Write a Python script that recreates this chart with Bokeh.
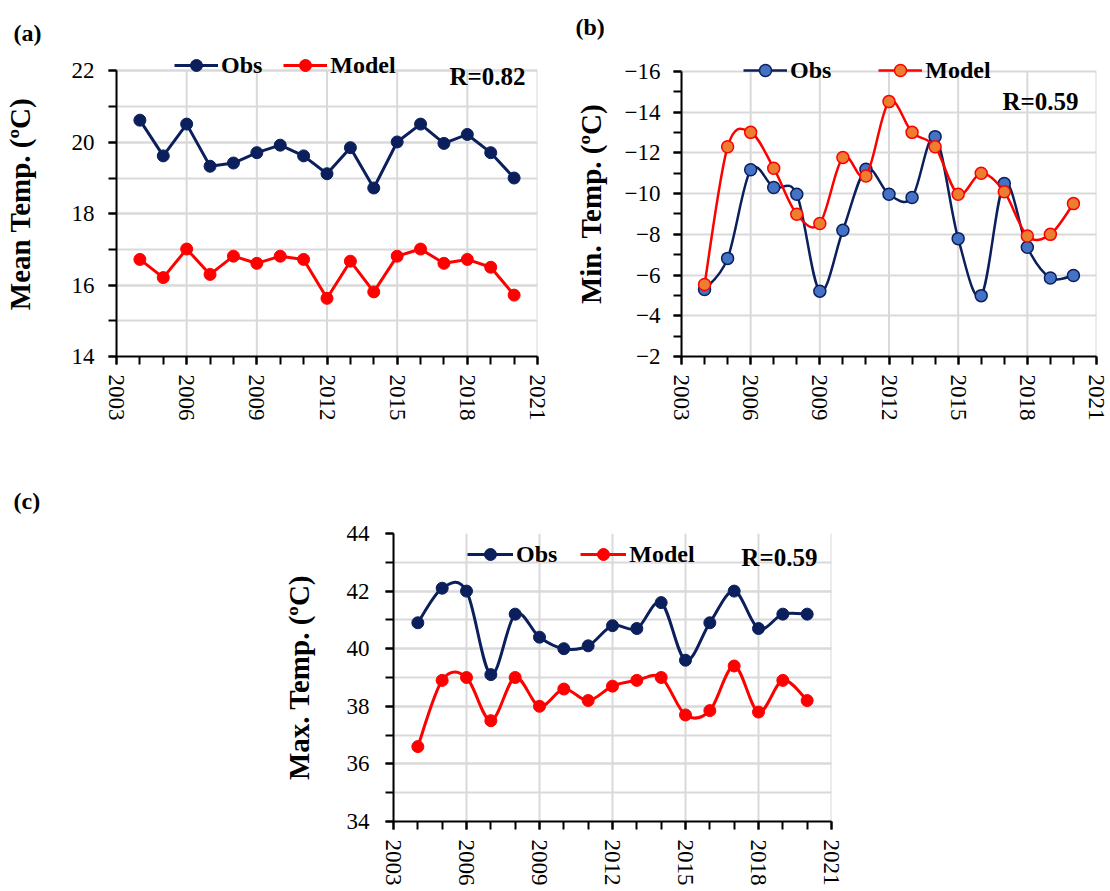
from bokeh.plotting import figure
from bokeh.models import (Range1d, FixedTicker, Legend, LegendItem, Label, Title,
                          CustomJSTickFormatter, ColumnDataSource)
from bokeh.layouts import column, row
from bokeh.embed import file_html
from bokeh.resources import INLINE

# ---------------- data ----------------
years = [2004, 2005, 2006, 2007, 2008, 2009, 2010, 2011, 2012,
         2013, 2014, 2015, 2016, 2017, 2018, 2019, 2020]

mean_obs = [20.62, 19.62, 20.51, 19.33, 19.42, 19.71, 19.92, 19.62, 19.12,
            19.85, 18.72, 20.01, 20.51, 19.97, 20.22, 19.71, 19.0]
mean_model = [16.72, 16.21, 17.01, 16.30, 16.81, 16.61, 16.81, 16.72, 15.63,
              16.67, 15.81, 16.81, 17.01, 16.61, 16.72, 16.50, 15.72]

min_obs = [-5.29, -6.82, -11.17, -10.30, -9.97, -5.21, -8.20, -11.20, -9.97,
           -9.81, -12.80, -7.79, -4.99, -10.50, -7.37, -5.86, -5.98]
min_model = [-5.54, -12.30, -13.01, -11.25, -8.99, -8.53, -11.78, -10.87, -14.52,
             -13.01, -12.30, -9.97, -11.0, -10.09, -7.92, -8.0, -9.51]

max_obs = [40.9, 42.1, 42.0, 39.1, 41.2, 40.4, 40.0, 40.1, 40.8,
           40.7, 41.6, 39.6, 40.9, 42.0, 40.7, 41.2, 41.2]
max_model = [36.6, 38.9, 39.0, 37.5, 39.0, 38.0, 38.6, 38.2, 38.7,
             38.9, 39.0, 37.7, 37.85, 39.4, 37.8, 38.9, 38.2]

x_ticks = [2003, 2006, 2009, 2012, 2015, 2018, 2021]
x_minor = list(range(2003, 2022))
a_ticks = [14, 16, 18, 20, 22]
a_minor = list(range(14, 23))
b_ticks = [-16, -14, -12, -10, -8, -6, -4, -2]
b_minor = list(range(-16, -1))
c_ticks = [34, 36, 38, 40, 42, 44]
c_minor = list(range(34, 45))

series_names = ["Obs", "Model"]
r_texts = ["R=0.82", "R=0.59", "R=0.59"]
y_titles = ["Mean Temp. (ºC)", "Min. Temp. (ºC)", "Max. Temp. (ºC)"]
panel_tags = ["(a)", "(b)", "(c)"]

NAVY = "#0B1F5C"
RED = "#FF0000"
BLUE_FILL = "#4472C4"
ORANGE_FILL = "#ED7D31"
GRID = "#D9D9D9"
FONT = "Liberation Serif"


def bezier_source(xs, ys):
    """Control points of a smoothed (Excel-like) curve through the data points."""
    n = len(xs)
    d = dict(x0=[], y0=[], x1=[], y1=[], cx0=[], cy0=[], cx1=[], cy1=[])
    for i in range(n - 1):
        i0 = i - 1 if i > 0 else i
        i3 = i + 2 if i + 2 < n else i + 1
        d["x0"].append(xs[i]); d["y0"].append(ys[i])
        d["x1"].append(xs[i + 1]); d["y1"].append(ys[i + 1])
        d["cx0"].append(xs[i] + (xs[i + 1] - xs[i0]) / 6.0)
        d["cy0"].append(ys[i] + (ys[i + 1] - ys[i0]) / 6.0)
        d["cx1"].append(xs[i + 1] - (xs[i3] - xs[i]) / 6.0)
        d["cy1"].append(ys[i + 1] - (ys[i3] - ys[i]) / 6.0)
    return ColumnDataSource(d)


def make_panel(width, height, borders, yrange, yt, ym, minor_grid, tag, tag_offset,
               tag_standoff, ylabel, ylabel_standoff, ytick_standoff, xstandoff):
    l, r, t, b = borders
    p = figure(width=width, height=height, x_range=Range1d(2003, 2021),
               y_range=Range1d(*yrange), output_backend="svg", toolbar_location=None,
               min_border_left=l, min_border_right=r, min_border_top=t,
               min_border_bottom=b)
    p.outline_line_color = None
    p.background_fill_color = "white"
    p.border_fill_color = "white"

    p.xaxis.ticker = FixedTicker(ticks=x_ticks, minor_ticks=x_minor)
    p.yaxis.ticker = FixedTicker(ticks=yt, minor_ticks=ym)
    p.yaxis.bounds = (min(yt), max(yt))

    for ax in (p.xaxis, p.yaxis):
        ax.axis_line_color = "black"
        ax.axis_line_width = 2
        ax.major_tick_line_color = "black"
        ax.major_tick_line_width = 2
        ax.minor_tick_line_color = "black"
        ax.minor_tick_line_width = 2
        ax.major_tick_in = 0
        ax.major_tick_out = 8
        ax.minor_tick_in = 0
        ax.minor_tick_out = 8
        ax.major_label_text_font = FONT
        ax.major_label_text_font_size = "23px"
        ax.major_label_text_color = "black"

    p.xaxis.major_label_orientation = "vertical"
    p.xaxis.major_label_standoff = xstandoff
    p.yaxis.major_label_standoff = ytick_standoff

    p.yaxis.axis_label = ylabel
    p.yaxis.axis_label_text_font = FONT
    p.yaxis.axis_label_text_font_size = "29px"
    p.yaxis.axis_label_text_font_style = "bold"
    p.yaxis.axis_label_text_color = "black"
    p.yaxis.axis_label_standoff = ylabel_standoff

    # vertical gridlines only between the axis limits
    p.xgrid.grid_line_color = None
    n = len(x_ticks)
    p.segment(x0=x_ticks, y0=[min(yt)] * n, x1=x_ticks, y1=[max(yt)] * n,
              line_color=GRID, line_width=2, level="underlay")
    p.ygrid.grid_line_color = GRID
    p.ygrid.grid_line_width = 2
    if minor_grid:
        p.ygrid.minor_grid_line_color = GRID
        p.ygrid.minor_grid_line_width = 2

    title = Title(text=tag, align="left", vertical_align="top", offset=tag_offset,
                  standoff=tag_standoff, text_font=FONT, text_font_size="24px",
                  text_font_style="bold", text_color="black")
    p.add_layout(title, "above")
    return p


def add_legend(p, items, loc, spacing, gw=44):
    leg = Legend(items=items, location=loc, orientation="horizontal",
                 glyph_width=gw, glyph_height=30, label_height=20,
                 label_standoff=3, spacing=spacing, padding=0, margin=0,
                 label_text_font=FONT, label_text_font_size="24px",
                 label_text_font_style="bold", label_text_color="black",
                 background_fill_alpha=0, border_line_color=None)
    p.add_layout(leg)


def add_r(p, x, y, text):
    p.add_layout(Label(x=x, y=y, text=text, text_align="right", text_baseline="middle",
                       text_font=FONT, text_font_size="25px", text_font_style="bold",
                       text_color="black"))


def smooth_series(p, xs, ys, color, width):
    return p.bezier(x0="x0", y0="y0", x1="x1", y1="y1", cx0="cx0", cy0="cy0",
                    cx1="cx1", cy1="cy1", source=bezier_source(xs, ys),
                    line_color=color, line_width=width)


# ---------------- panel (a) ----------------
pa = make_panel(560, 425, (116, 23, 46, 65), (14, 22.544), a_ticks, a_minor, True,
                panel_tags[0], -103, 7, y_titles[0], 33, 14, 10)
la_o = pa.line(years, mean_obs, line_color=NAVY, line_width=3, line_join="round")
sa_o = pa.scatter(years, mean_obs, size=12, fill_color=NAVY, line_color=NAVY)
la_m = pa.line(years, mean_model, line_color=RED, line_width=3, line_join="round")
sa_m = pa.scatter(years, mean_model, size=12, fill_color=RED, line_color=RED)
add_legend(pa, [LegendItem(label=series_names[0], renderers=[la_o, sa_o]),
                LegendItem(label=series_names[1], renderers=[la_m, sa_m])],
           (58, 276), 21)
add_r(pa, 2020.49, 21.837, r_texts[0])

# ---------------- panel (b) ----------------
pb = make_panel(550, 425, (121, 14, 51, 69), (-2, -16.982), b_ticks, b_minor, False,
                panel_tags[1], -106, 19, y_titles[1], 15, 13, 10)
pb.yaxis.formatter = CustomJSTickFormatter(
    code="return (tick < 0 ? '\u2212' : '') + Math.abs(tick).toFixed(0);")
lb_o = smooth_series(pb, years, min_obs, NAVY, 2.5)
sb_o = pb.scatter(years, min_obs, size=12, fill_color=BLUE_FILL, line_color=NAVY,
                  line_width=1.5)
lb_m = smooth_series(pb, years, min_model, RED, 2.5)
sb_m = pb.scatter(years, min_model, size=12, fill_color=ORANGE_FILL, line_color=RED,
                  line_width=1.5)
add_legend(pb, [LegendItem(label=series_names[0], renderers=[lb_o, sb_o]),
                LegendItem(label=series_names[1], renderers=[lb_m, sb_m])],
           (62, 271), 47)
add_r(pb, 2020.22, -14.53, r_texts[1])

# ---------------- panel (c) ----------------
pc = make_panel(848, 463, (393, 17, 108, 64), (34, 44), c_ticks, c_minor, True,
                panel_tags[2], -380, 36, y_titles[2], 29, 16, 10)
lc_o = smooth_series(pc, years, max_obs, NAVY, 3)
sc_o = pc.scatter(years, max_obs, size=12, fill_color=NAVY, line_color=NAVY)
lc_m = smooth_series(pc, years, max_model, RED, 3)
sc_m = pc.scatter(years, max_model, size=12, fill_color=RED, line_color=RED)
add_legend(pc, [LegendItem(label=series_names[0], renderers=[lc_o, sc_o]),
                LegendItem(label=series_names[1], renderers=[lc_m, sc_m])],
           (74, 252), 23, gw=46)
add_r(pc, 2020.42, 43.18, r_texts[2])

layout = column(row(pa, pb), pc)
open("out.html", "w").write(file_html(layout, INLINE))
